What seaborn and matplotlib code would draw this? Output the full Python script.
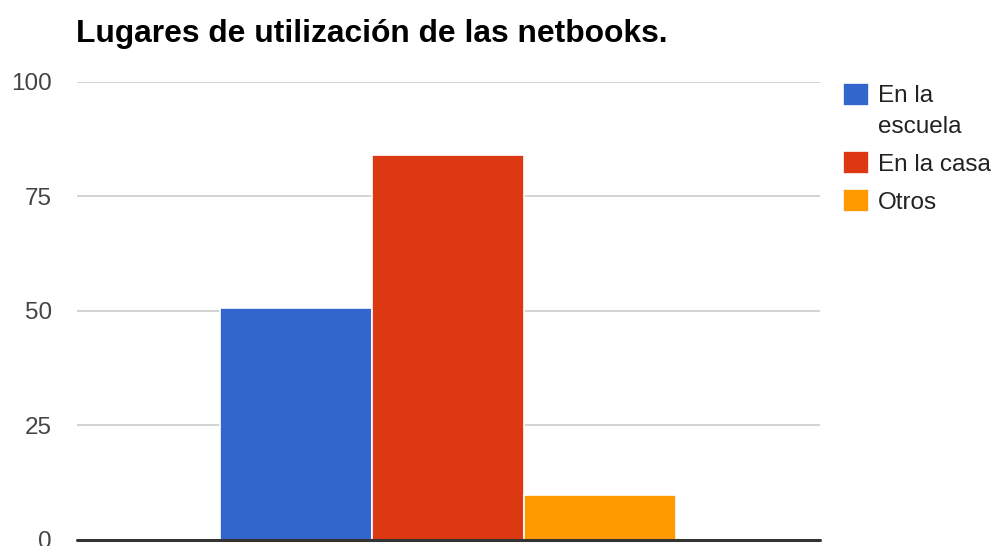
import matplotlib
matplotlib.use('Agg')
import matplotlib.pyplot as plt
import seaborn as sns
import pandas as pd

titulo = 'Lugares de utilización de las netbooks.'
lugares = ['En la escuela', 'En la casa', 'Otros']
etiquetas = ['En la\nescuela', 'En la casa', 'Otros']
valores = [50.6, 84, 9.8]
colores = ['#3366CC', '#DC3912', '#FF9900']
ticks_y = [0, 25, 50, 75, 100]

df = pd.DataFrame({'grupo': [''] * len(lugares), 'lugar': lugares, 'valor': valores})

sns.set_style('white')
plt.rcParams['font.family'] = ['Liberation Sans', 'DejaVu Sans']

fig = plt.figure(figsize=(9.96, 5.46), dpi=100)
ax = fig.add_axes([0.077, 0.011, 0.746, 0.839])

sns.barplot(data=df, x='grupo', y='valor', hue='lugar', palette=colores,
            width=0.613, dodge=True, edgecolor='white', linewidth=1.2,
            saturation=1, ax=ax, legend=True)

ax.set_ylim(0, 100)
ax.set_xlim(-0.5, 0.5)
ax.set_yticks(ticks_y)
ax.set_yticklabels([str(t) for t in ticks_y], color='#444444', fontsize=17.5)
ax.tick_params(axis='y', length=0, pad=18)
ax.set_xticks([])
ax.set_xlabel('')
ax.set_ylabel('')
for s in ax.spines.values():
    s.set_visible(False)
for t in ticks_y[1:]:
    ax.axhline(t, color='#cccccc', linewidth=1.2, zorder=0)
ax.axhline(0, color='#333333', linewidth=2.2, zorder=5, clip_on=False)

fig.text(0.076, 0.937, titulo, fontsize=22.9, fontweight='bold', color='black', va='center')

handles, _ = ax.get_legend_handles_labels()
leg = ax.legend(handles, etiquetas, loc='upper left', bbox_to_anchor=(0.846, 0.844),
                bbox_transform=fig.transFigure, frameon=False, fontsize=17.5,
                handlelength=1.08, handleheight=1.08, handletextpad=0.38,
                labelspacing=0.55, labelcolor='#222222', borderaxespad=0, borderpad=0)
leg.get_texts()[0].set_linespacing(1.5)
# la caja del primer elemento va alineada con la primera linea del texto
h0 = leg.legend_handles[0]
h0.set_y(h0.get_y() + 12.5)

fig.savefig('out.png', dpi=100, facecolor='white')
